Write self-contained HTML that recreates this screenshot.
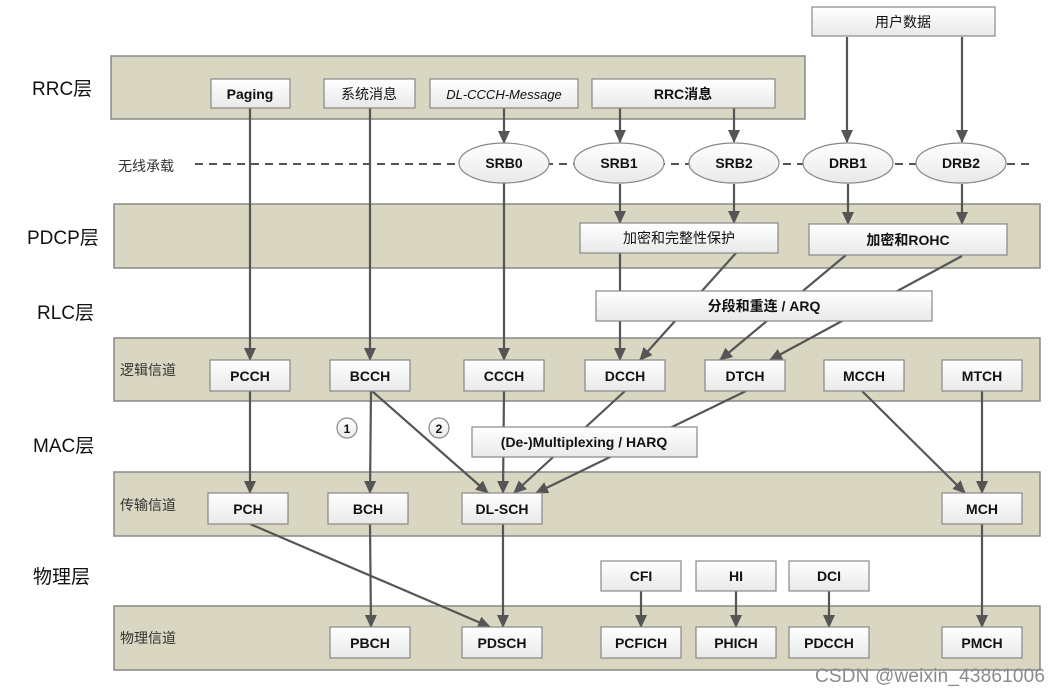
<!DOCTYPE html>
<html><head><meta charset="utf-8"><style>
html,body{margin:0;padding:0;background:#fff;}
svg{display:block;}
text{font-family:"Liberation Sans","Noto Sans CJK SC",sans-serif;fill:#111;}
.b{font-size:14px;font-weight:bold;}
.L{font-size:19px;}
.s{font-size:14px;fill:#333;}
</style></head><body>
<svg width="1061" height="694" viewBox="0 0 1061 694" xmlns="http://www.w3.org/2000/svg">
<defs>
<linearGradient id="g" x1="0" y1="0" x2="0" y2="1"><stop offset="0" stop-color="#ffffff"/><stop offset="1" stop-color="#e9e9e9"/></linearGradient>
<marker id="a" markerWidth="13" markerHeight="12" refX="12" refY="6" orient="auto" markerUnits="userSpaceOnUse" viewBox="0 0 13 12"><path d="M0,0 L13,6 L0,12 z" fill="#555"/></marker>
</defs>
<g fill="#d9d6c1" stroke="#888" stroke-width="1.5">
<rect x="111" y="56" width="694" height="63"/>
<rect x="114" y="204" width="926" height="64"/>
<rect x="114" y="338" width="926" height="63"/>
<rect x="114" y="472" width="926" height="64"/>
<rect x="114" y="606" width="926" height="64"/>
</g>
<text class="L" x="32" y="95">RRC层</text>
<text class="L" x="27" y="244">PDCP层</text>
<text class="L" x="37" y="319">RLC层</text>
<text class="L" x="33" y="452">MAC层</text>
<text class="L" x="33" y="583">物理层</text>
<text class="s" x="118" y="171">无线承载</text>
<text class="s" x="120" y="375">逻辑信道</text>
<text class="s" x="120" y="510">传输信道</text>
<text class="s" x="120" y="643">物理信道</text>
<line x1="195" y1="164" x2="1032" y2="164" stroke="#555" stroke-width="2" stroke-dasharray="8,6"/>
<g stroke="#555" stroke-width="2.2" fill="none" marker-end="url(#a)">
<line x1="250" y1="108" x2="250" y2="360"/>
<line x1="370" y1="108" x2="370" y2="360"/>
<line x1="504" y1="108" x2="504" y2="143"/>
<line x1="504" y1="183" x2="504" y2="360"/>
<line x1="620" y1="108" x2="620" y2="142"/>
<line x1="734" y1="108" x2="734" y2="142"/>
<line x1="847" y1="37" x2="847" y2="142"/>
<line x1="962" y1="37" x2="962" y2="142"/>
<line x1="620" y1="184" x2="620" y2="223"/>
<line x1="734" y1="184" x2="734" y2="223"/>
<line x1="848" y1="184" x2="848" y2="224"/>
<line x1="962" y1="184" x2="962" y2="224"/>
<line x1="620" y1="253" x2="620" y2="360"/>
<line x1="736" y1="253" x2="640" y2="360"/>
<line x1="846" y1="255" x2="720" y2="360"/>
<line x1="962" y1="256" x2="770" y2="360"/>
<line x1="250" y1="391" x2="250" y2="493"/>
<line x1="371" y1="391" x2="370" y2="493"/>
<line x1="372" y1="391" x2="488" y2="493"/>
<line x1="504" y1="391" x2="503" y2="493"/>
<line x1="625" y1="391" x2="514" y2="493"/>
<line x1="746" y1="391" x2="536" y2="493"/>
<line x1="862" y1="391" x2="965" y2="493"/>
<line x1="982" y1="391" x2="982" y2="493"/>
<line x1="250" y1="524" x2="490" y2="627"/>
<line x1="370" y1="524" x2="371" y2="627"/>
<line x1="503" y1="524" x2="503" y2="627"/>
<line x1="982" y1="524" x2="982" y2="627"/>
<line x1="641" y1="591" x2="641" y2="627"/>
<line x1="736" y1="591" x2="736" y2="627"/>
<line x1="829" y1="591" x2="829" y2="627"/>
</g>
<g fill="url(#g)" stroke="#888" stroke-width="1.2">
<rect x="812" y="7" width="183" height="29"/>
<rect x="211" y="79" width="79" height="29"/>
<rect x="324" y="79" width="91" height="29"/>
<rect x="430" y="79" width="148" height="29"/>
<rect x="592" y="79" width="183" height="29"/>
<rect x="580" y="223" width="198" height="30"/>
<rect x="809" y="224" width="198" height="31"/>
<rect x="596" y="291" width="336" height="30"/>
<rect x="210" y="360" width="80" height="31"/>
<rect x="330" y="360" width="80" height="31"/>
<rect x="464" y="360" width="80" height="31"/>
<rect x="585" y="360" width="80" height="31"/>
<rect x="705" y="360" width="80" height="31"/>
<rect x="824" y="360" width="80" height="31"/>
<rect x="942" y="360" width="80" height="31"/>
<rect x="472" y="427" width="225" height="30"/>
<rect x="208" y="493" width="80" height="31"/>
<rect x="328" y="493" width="80" height="31"/>
<rect x="462" y="493" width="80" height="31"/>
<rect x="942" y="493" width="80" height="31"/>
<rect x="601" y="561" width="80" height="30"/>
<rect x="696" y="561" width="80" height="30"/>
<rect x="789" y="561" width="80" height="30"/>
<rect x="330" y="627" width="80" height="31"/>
<rect x="462" y="627" width="80" height="31"/>
<rect x="601" y="627" width="80" height="31"/>
<rect x="696" y="627" width="80" height="31"/>
<rect x="789" y="627" width="80" height="31"/>
<rect x="942" y="627" width="80" height="31"/>
</g>
<g fill="url(#g)" stroke="#888" stroke-width="1.2">
<ellipse cx="504" cy="163" rx="45" ry="20"/>
<ellipse cx="619" cy="163" rx="45" ry="20"/>
<ellipse cx="734" cy="163" rx="45" ry="20"/>
<ellipse cx="848" cy="163" rx="45" ry="20"/>
<ellipse cx="961" cy="163" rx="45" ry="20"/>
<circle cx="347" cy="428" r="10"/>
<circle cx="439" cy="428" r="10"/>
</g>
<g text-anchor="middle" class="b">
<text x="903" y="27" font-weight="normal">用户数据</text>
<text x="250" y="99">Paging</text>
<text x="369" y="99" font-weight="normal">系统消息</text>
<text x="504" y="99" font-style="italic" font-weight="normal" font-size="13">DL-CCCH-Message</text>
<text x="683" y="99">RRC消息</text>
<text x="504" y="168">SRB0</text>
<text x="619" y="168">SRB1</text>
<text x="734" y="168">SRB2</text>
<text x="848" y="168">DRB1</text>
<text x="961" y="168">DRB2</text>
<text x="679" y="243" font-weight="normal">加密和完整性保护</text>
<text x="908" y="245">加密和ROHC</text>
<text x="764" y="311">分段和重连  /  ARQ</text>
<text x="250" y="381">PCCH</text>
<text x="370" y="381">BCCH</text>
<text x="504" y="381">CCCH</text>
<text x="625" y="381">DCCH</text>
<text x="745" y="381">DTCH</text>
<text x="864" y="381">MCCH</text>
<text x="982" y="381">MTCH</text>
<text x="584" y="447">(De-)Multiplexing / HARQ</text>
<text x="347" y="433" font-size="12">1</text>
<text x="439" y="433" font-size="12">2</text>
<text x="248" y="514">PCH</text>
<text x="368" y="514">BCH</text>
<text x="502" y="514">DL-SCH</text>
<text x="982" y="514">MCH</text>
<text x="641" y="581">CFI</text>
<text x="736" y="581">HI</text>
<text x="829" y="581">DCI</text>
<text x="370" y="648">PBCH</text>
<text x="502" y="648">PDSCH</text>
<text x="641" y="648">PCFICH</text>
<text x="736" y="648">PHICH</text>
<text x="829" y="648">PDCCH</text>
<text x="982" y="648">PMCH</text>
</g>
<text x="815" y="682" font-size="19" textLength="230" style="fill:#8a8a8a">CSDN @weixin_43861006</text>
</svg>
</body></html>
